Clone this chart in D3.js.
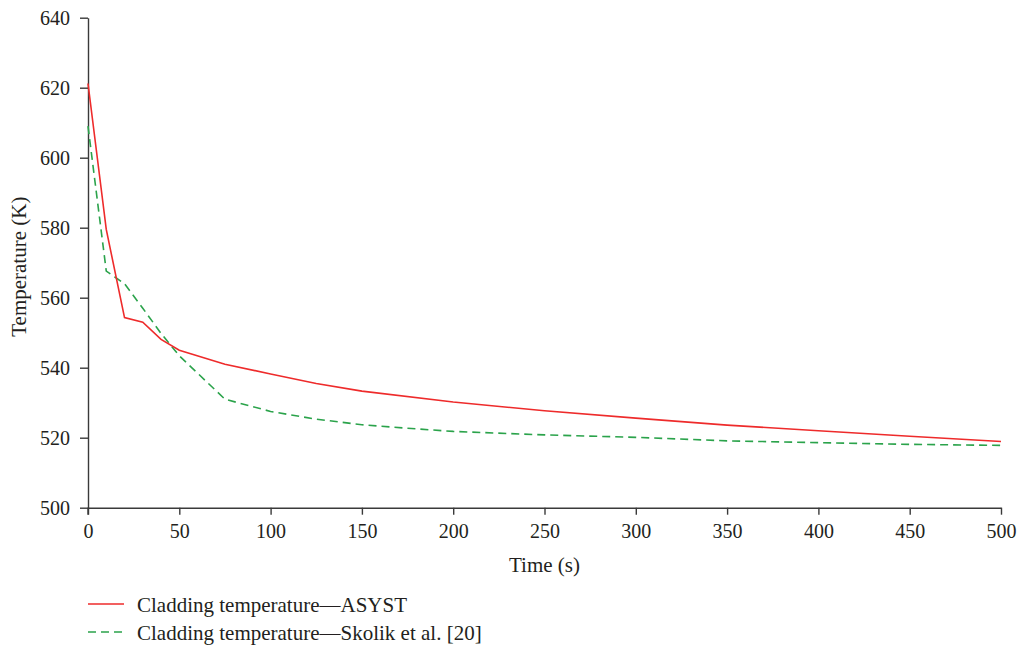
<!DOCTYPE html>
<html>
<head>
<meta charset="utf-8">
<script src="https://cdn.jsdelivr.net/npm/d3@7"></script>
<style>
  body { margin: 0; background: #fff; }
  svg { display: block; }
  text { font-family: "Liberation Serif", "DejaVu Serif", serif; fill: #231f20; }
</style>
</head>
<body>
<div id="chart"></div>
<script>
// Data
const asystTime = [0, 10, 20, 30, 40, 50, 75, 100, 125, 150, 200, 250, 300, 350, 400, 450, 500];
const asystTemp = [621.2, 579.5, 554.3, 553, 548.1, 545, 541, 538.2, 535.5, 533.3, 530.2, 527.7, 525.6, 523.6, 522, 520.4, 518.9];

const skolikTime = [0, 10, 20, 30, 40, 50, 75, 100, 125, 150, 175, 200, 250, 300, 350, 400, 450, 500];
const skolikTemp = [609, 567.6, 564, 557, 549.8, 543.4, 531, 527.5, 525.3, 523.7, 522.7, 521.8, 520.8, 520.1, 519.1, 518.6, 518.1, 517.8];

const xTicks = [0, 50, 100, 150, 200, 250, 300, 350, 400, 450, 500];
const yTicks = [500, 520, 540, 560, 580, 600, 620, 640];

const seriesNames = ["Cladding temperature\u2014ASYST", "Cladding temperature\u2014Skolik et al. [20]"];

const width = 1019, height = 646;
const margin = { top: 17.7, right: 18, bottom: 138.3, left: 88 };

const svg = d3.select("#chart").append("svg")
    .attr("width", width)
    .attr("height", height);

const x = d3.scaleLinear().domain([0, 500]).range([margin.left, width - margin.right]);
const y = d3.scaleLinear().domain([500, 640]).range([height - margin.bottom, margin.top]);

// Axes
const xAxis = svg.append("g")
    .attr("transform", `translate(0,${y(500)})`)
    .call(d3.axisBottom(x).tickValues(xTicks).tickSize(7).tickPadding(9).tickSizeOuter(0));

const yAxis = svg.append("g")
    .attr("transform", `translate(${x(0)},0)`)
    .call(d3.axisLeft(y).tickValues(yTicks).tickSize(8).tickPadding(10).tickSizeOuter(0));

[xAxis, yAxis].forEach(a => {
    a.select(".domain").attr("stroke", "#3a3a3a").attr("stroke-width", 1.4);
    a.selectAll(".tick line").attr("stroke", "#3a3a3a").attr("stroke-width", 1.4);
    a.selectAll(".tick text")
        .style("font-family", '"Liberation Serif", "DejaVu Serif", serif')
        .style("font-size", "20px")
        .attr("fill", "#231f20");
});

// extend y axis line below the x axis like the reference
svg.append("line")
    .attr("x1", x(0)).attr("x2", x(0))
    .attr("y1", y(500)).attr("y2", y(500) + 7)
    .attr("stroke", "#3a3a3a").attr("stroke-width", 1.4);

// Axis titles
svg.append("text")
    .attr("x", (x(0) + x(500)) / 2)
    .attr("y", 572)
    .attr("text-anchor", "middle")
    .style("font-size", "21px")
    .text("Time (s)");

svg.append("text")
    .attr("transform", `translate(26,${(y(500) + y(640)) / 2 + 4}) rotate(-90)`)
    .attr("text-anchor", "middle")
    .style("font-size", "21px")
    .text("Temperature (K)");

// Lines
const line = d3.line()
    .x(d => x(d[0]))
    .y(d => y(d[1]));

const asyst = asystTime.map((t, i) => [t, asystTemp[i]]);
const skolik = skolikTime.map((t, i) => [t, skolikTemp[i]]);

svg.append("path")
    .datum(skolik)
    .attr("fill", "none")
    .attr("stroke", "#2ba34b")
    .attr("stroke-width", 1.6)
    .attr("stroke-dasharray", "8,5")
    .attr("d", line);

svg.append("path")
    .datum(asyst)
    .attr("fill", "none")
    .attr("stroke", "#ee2b2b")
    .attr("stroke-width", 1.6)
    .attr("d", line);

// Legend
const legend = svg.append("g");
const legendItems = [
    { name: seriesNames[0], color: "#ee2b2b", dash: null, y: 604 },
    { name: seriesNames[1], color: "#2ba34b", dash: "8,5", y: 632 }
];
legendItems.forEach(item => {
    legend.append("line")
        .attr("x1", 88).attr("x2", 124)
        .attr("y1", item.y).attr("y2", item.y)
        .attr("stroke", item.color)
        .attr("stroke-width", 1.6)
        .attr("stroke-dasharray", item.dash);
    legend.append("text")
        .attr("x", 137)
        .attr("y", item.y + 7.5)
        .style("font-size", "21px")
        .text(item.name);
});
</script>
</body>
</html>
